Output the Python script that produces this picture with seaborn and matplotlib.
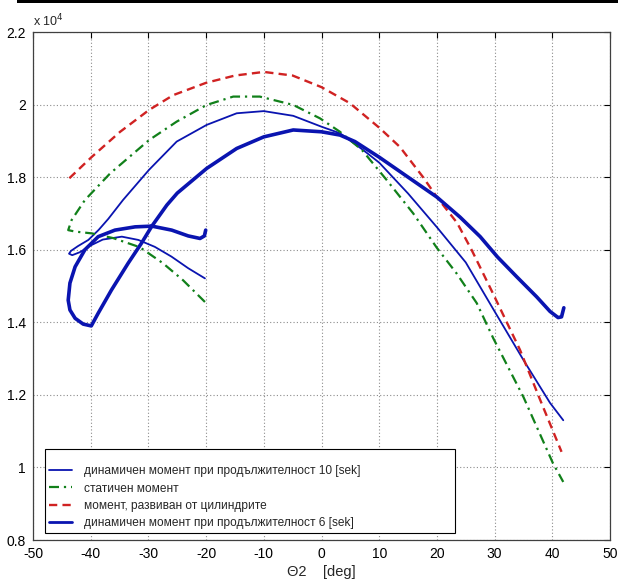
import matplotlib
matplotlib.use("Agg")
import matplotlib.pyplot as plt
from matplotlib.patches import Rectangle
from matplotlib.ticker import FuncFormatter
import pandas as pd
import seaborn as sns

# ---- data (torque in units of 10^4) ----
thin_theta = [-20.2, -23.1, -26.0, -28.9, -31.75, -34.6, -37.9, -40.1, -41.9, -43.2, -43.76, -43.4,
              -42.2, -40.4, -38.6, -36.95, -34.4, -29.9, -25.1, -19.9, -14.7, -10.0, -4.9, 0.0,
              3.2, 7.2, 10.0, 15.0, 20.0, 25.0, 30.0, 35.0, 39.6, 41.9]
thin_val = [1.521, 1.549, 1.581, 1.608, 1.627, 1.636, 1.628, 1.611, 1.593, 1.585, 1.589, 1.597,
            1.610, 1.627, 1.655, 1.685, 1.737, 1.820, 1.898, 1.944, 1.976, 1.982, 1.969, 1.939,
            1.921, 1.875, 1.840, 1.755, 1.662, 1.565, 1.430, 1.296, 1.178, 1.130]

static_theta = [-20.2, -24.0, -27.5, -31.5, -36.1, -39.8, -42.7, -43.9, -43.3, -41.0, -36.65, -29.9,
                -25.1, -19.9, -15.3, -10.7, -4.9, -0.26, 3.2, 7.0, 11.3, 15.9, 20.0, 23.4, 26.9,
                29.8, 35.0, 40.1, 41.9]
static_val = [1.456, 1.516, 1.563, 1.607, 1.632, 1.645, 1.650, 1.654, 1.682, 1.737, 1.810, 1.902,
              1.953, 1.999, 2.022, 2.022, 1.999, 1.962, 1.925, 1.875, 1.792, 1.700, 1.605, 1.535,
              1.453, 1.355, 1.194, 1.012, 0.960]

cyl_theta = [-43.7, -39.8, -34.9, -29.9, -25.7, -20.0, -15.0, -10.0, -5.0, 0.0, 4.9, 10.1, 13.6,
             17.6, 20.0, 23.5, 26.0, 29.7, 34.4, 37.9, 41.6]
cyl_val = [1.797, 1.856, 1.925, 1.985, 2.026, 2.060, 2.080, 2.090, 2.080, 2.048, 2.004, 1.935,
           1.883, 1.800, 1.745, 1.674, 1.600, 1.480, 1.324, 1.186, 1.043]

thick_theta = [-20.07, -20.3, -21.05, -23.1, -25.96, -29.4, -32.3, -35.8, -38.7, -41.0, -42.7, -43.6,
               -43.9, -43.6, -42.7, -41.3, -39.9, -38.7, -36.4, -33.5, -31.2, -29.4, -26.8, -25.0,
               -19.9, -14.7, -10.0, -4.9, 0.0, 3.2, 5.8, 10.0, 15.0, 20.0, 24.0, 27.5, 30.5, 33.8,
               37.3, 39.6, 41.0, 41.6, 42.0]
thick_val = [1.654, 1.638, 1.631, 1.638, 1.654, 1.665, 1.663, 1.654, 1.636, 1.600, 1.553, 1.508,
             1.461, 1.434, 1.411, 1.395, 1.390, 1.425, 1.489, 1.563, 1.618, 1.665, 1.723, 1.756,
             1.824, 1.879, 1.911, 1.930, 1.925, 1.916, 1.898, 1.855, 1.800, 1.745, 1.690, 1.636,
             1.580, 1.526, 1.470, 1.430, 1.413, 1.415, 1.440]

labels = ["динамичен момент при продължителност 10 [sek]",
          "статичен момент",
          "момент, развиван от цилиндрите",
          "динамичен момент при продължителност 6 [sek]"]

x_ticks = [-50, -40, -30, -20, -10, 0, 10, 20, 30, 40, 50]
y_ticks = [0.8, 1.0, 1.2, 1.4, 1.6, 1.8, 2.0, 2.2]

# ---- style ----
sns.set_style("white")
plt.rcParams['font.family'] = ['Liberation Sans', 'DejaVu Sans']
plt.rcParams['axes.unicode_minus'] = False

fig = plt.figure(figsize=(6.18, 5.8), dpi=100)
ax = fig.add_axes([33 / 618, 1 - 540 / 580, 577 / 618, 508 / 580])

blue = "#0a14b0"
green = "#11801a"
red = "#d02222"

def frame(t, v):
    return pd.DataFrame({"theta": t, "val": v})

sns.lineplot(data=frame(thin_theta, thin_val), x="theta", y="val", sort=False, estimator=None,
             color=blue, lw=1.3, ax=ax, label=labels[0])
sns.lineplot(data=frame(static_theta, static_val), x="theta", y="val", sort=False, estimator=None,
             color=green, lw=1.6, ax=ax, label=labels[1])
ax.lines[-1].set_dashes([4.5, 2.2, 1.0, 2.2])
sns.lineplot(data=frame(cyl_theta, cyl_val), x="theta", y="val", sort=False, estimator=None,
             color=red, lw=1.7, ax=ax, label=labels[2])
ax.lines[-1].set_dashes([3.5, 2.2])
sns.lineplot(data=frame(thick_theta, thick_val), x="theta", y="val", sort=False, estimator=None,
             color=blue, lw=2.6, ax=ax, label=labels[3])
for ln in ax.lines:
    ln.set_solid_joinstyle("round")
    ln.set_dash_joinstyle("round")

ax.set_xlim(-50, 50)
ax.set_ylim(0.8, 2.2)
ax.set_xticks(x_ticks)
ax.set_yticks(y_ticks)
ax.yaxis.set_major_formatter(FuncFormatter(lambda v, p: f"{v:g}"))
ax.grid(True, linestyle=(0, (1, 2)), color="#8c8c8c", linewidth=0.8)
ax.tick_params(direction="in", length=4, width=0.8, top=True, right=True,
               labelsize=10, pad=5, colors="black")
for s in ax.spines.values():
    s.set_color("#404040")
    s.set_linewidth(0.9)
ax.set_ylabel("")
ax.set_xlabel("Θ2    [deg]", fontsize=10.5, labelpad=3)

leg = ax.legend(loc="lower left", bbox_to_anchor=(12 / 577, 7 / 508, 410 / 577, 0.16),
                mode="expand", fontsize=8.6, frameon=True, fancybox=False, framealpha=1,
                edgecolor="black", handlelength=2.0, handletextpad=1.0, borderpad=0.3,
                labelspacing=0.45, borderaxespad=0, title=" ", title_fontsize=6)
leg.get_frame().set_linewidth(0.8)
for h in leg.get_lines():
    h.set_linewidth(min(h.get_linewidth(), 2.0))

fig.text(33 / 618, 1 - 26 / 580, r"x 10$^4$", fontsize=9, ha="left", va="baseline")
fig.add_artist(Rectangle((17 / 618, 1 - 3 / 580), 1, 3 / 580, transform=fig.transFigure,
                         color="black", lw=0))

fig.savefig("out.png", dpi=100)
